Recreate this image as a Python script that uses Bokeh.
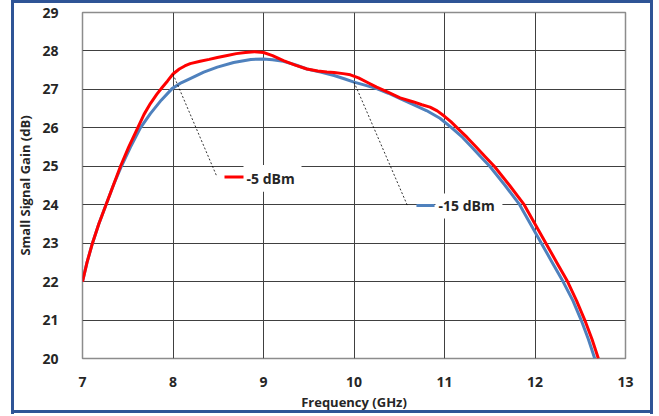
from bokeh.plotting import figure
from bokeh.models import Range1d, FixedTicker, ColumnDataSource
from bokeh.core.properties import value
from bokeh.embed import file_html
from bokeh.resources import INLINE

# ---- data ----
freq_5 = [7.0, 7.05, 7.11, 7.18, 7.26, 7.34, 7.42, 7.51, 7.61, 7.68, 7.75, 7.82, 7.88,
          7.94, 8.0, 8.07, 8.13, 8.19, 8.3, 8.4, 8.49, 8.6, 8.7, 8.8, 8.9, 9.0, 9.1,
          9.22, 9.35, 9.48, 9.6, 9.7, 9.78, 9.88, 9.96, 10.05, 10.15, 10.25, 10.38,
          10.51, 10.65, 10.75, 10.84, 10.92, 11.0, 11.07, 11.14, 11.25, 11.35, 11.45,
          11.55, 11.72, 11.88, 12.0, 12.12, 12.24, 12.36, 12.46, 12.55, 12.63, 12.70]
gain_5 = [22.0, 22.5, 23.0, 23.5, 24.0, 24.5, 25.0, 25.5, 26.0, 26.35, 26.63, 26.87, 27.05,
          27.22, 27.4, 27.53, 27.61, 27.67, 27.73, 27.78, 27.83, 27.88, 27.93, 27.96, 27.98,
          27.96, 27.88, 27.75, 27.63, 27.53, 27.48, 27.45, 27.44, 27.41, 27.38, 27.3, 27.18,
          27.06, 26.92, 26.78, 26.68, 26.6, 26.54, 26.44, 26.3, 26.16, 26.0, 25.75, 25.5,
          25.25, 25.0, 24.5, 24.0, 23.5, 23.0, 22.5, 22.0, 21.5, 21.0, 20.5, 20.0]

freq_15 = [7.0, 7.05, 7.11, 7.18, 7.26, 7.34, 7.43, 7.53, 7.64, 7.75, 7.87, 7.99, 8.09,
           8.19, 8.34, 8.49, 8.67, 8.86, 9.0, 9.1, 9.22, 9.35, 9.48, 9.63, 9.78, 9.9,
           10.0, 10.12, 10.25, 10.38, 10.51, 10.65, 10.8, 10.95, 11.08, 11.2, 11.3, 11.4,
           11.5, 11.67, 11.83, 11.95, 12.07, 12.19, 12.31, 12.42, 12.51, 12.59, 12.66]
gain_15 = [22.0, 22.5, 23.0, 23.5, 24.0, 24.5, 25.0, 25.5, 26.0, 26.37, 26.72, 27.02, 27.17,
           27.28, 27.45, 27.58, 27.7, 27.78, 27.79, 27.77, 27.73, 27.64, 27.53, 27.45, 27.36,
           27.27, 27.19, 27.11, 27.02, 26.9, 26.76, 26.61, 26.45, 26.25, 26.0, 25.75, 25.5,
           25.25, 25.0, 24.5, 24.0, 23.5, 23.0, 22.5, 22.0, 21.5, 21.0, 20.5, 20.0]

x_ticks = [7, 8, 9, 10, 11, 12, 13]
y_ticks = [20, 21, 22, 23, 24, 25, 26, 27, 28, 29]

series_names = ["-5 dBm", "-15 dBm"]
series_colors = ["#FF0000", "#4F81BD"]
# label annotations: anchor frequency on each curve, then label placement
label_anchor_freq = [8.0, 10.0]
label_elbow_x = [8.487, 10.59]
label_elbow_y = [24.72, 23.98]
label_key_x0 = [8.569, 10.69]
label_key_x1 = [8.779, 10.89]
label_text_x = [8.813, 10.934]
label_text_y = [24.68, 23.97]
label_box_left = [8.779, 10.90]
label_box_right = [9.42, 11.64]
label_box_top = [25.03, 24.29]
label_box_bottom = [24.34, 23.64]

FONT = "Open Sans"
BORDER = "#2F5496"

p = figure(width=659, height=416, output_backend="svg", toolbar_location=None,
           x_range=Range1d(7, 13), y_range=Range1d(20, 29),
           min_border_left=82, min_border_right=34, min_border_top=12, min_border_bottom=58)
p.background_fill_color = "white"
p.border_fill_color = None
p.outline_line_color = "#8C8C8C"
p.outline_line_width = 1.5

# outer blue frame drawn as CSS background behind the transparent border area
grad = f"linear-gradient({BORDER},{BORDER})"
p.styles = {
    "background": (
        f"{grad} 11px 0px / 3px 414px no-repeat, "
        f"{grad} 650px 0px / 3px 414px no-repeat, "
        f"{grad} 11px 0px / 642px 3px no-repeat, "
        f"{grad} 11px 410px / 642px 3px no-repeat, white"
    )
}

for ax in (p.xaxis[0], p.yaxis[0]):
    ax.major_label_text_font = FONT
    ax.major_label_text_font_style = "bold"
    ax.major_label_text_font_size = "14px"
    ax.major_label_text_color = "#262626"
    ax.axis_label_text_font = FONT
    ax.axis_label_text_font_style = "bold"
    ax.axis_label_text_font_size = "13px"
    ax.axis_label_text_color = "#262626"
    ax.axis_line_color = None
    ax.major_tick_line_color = None
    ax.minor_tick_line_color = None

p.xaxis.ticker = FixedTicker(ticks=x_ticks)
p.yaxis.ticker = FixedTicker(ticks=y_ticks)
p.xaxis.axis_label = "Frequency (GHz)"
p.yaxis.axis_label = "Small Signal Gain (dB)"
p.xaxis.major_label_standoff = 12
p.xaxis.axis_label_standoff = 3
p.yaxis.major_label_standoff = 18
p.yaxis.axis_label_standoff = 5

p.xgrid.ticker = FixedTicker(ticks=x_ticks)
p.ygrid.ticker = FixedTicker(ticks=y_ticks)
p.xgrid.grid_line_color = "#404040"
p.ygrid.grid_line_color = "#404040"
p.xgrid.grid_line_width = 1
p.ygrid.grid_line_width = 1

# label backgrounds (hide gridlines behind labels)
p.quad(left=label_box_left, right=label_box_right, top=label_box_top,
       bottom=label_box_bottom, fill_color="white", line_color=None)

# curves
p.line(freq_15, gain_15, line_color=series_colors[1], line_width=3, line_join="round")
p.line(freq_5, gain_5, line_color=series_colors[0], line_width=3, line_join="round")

# leader lines
xs_all = [freq_5, freq_15]
ys_all = [gain_5, gain_15]
for i in range(2):
    k = xs_all[i].index(label_anchor_freq[i])
    ax0 = xs_all[i][k]
    ay0 = ys_all[i][k]
    p.line([ax0, label_elbow_x[i]], [ay0, label_elbow_y[i]], line_color="#000000",
           line_width=0.8, line_dash="2 2")
    p.segment(x0=[label_key_x0[i]], y0=[label_elbow_y[i]], x1=[label_key_x1[i]],
              y1=[label_elbow_y[i]], line_color=series_colors[i], line_width=3)

src = ColumnDataSource(dict(x=label_text_x, y=label_text_y, t=series_names))
p.text(x="x", y="y", text="t", source=src, text_font=value(FONT), text_font_style="bold",
       text_font_size="14px", text_color="#262626", text_align="left",
       text_baseline="middle")

open("out.html", "w").write(file_html(p, INLINE))
